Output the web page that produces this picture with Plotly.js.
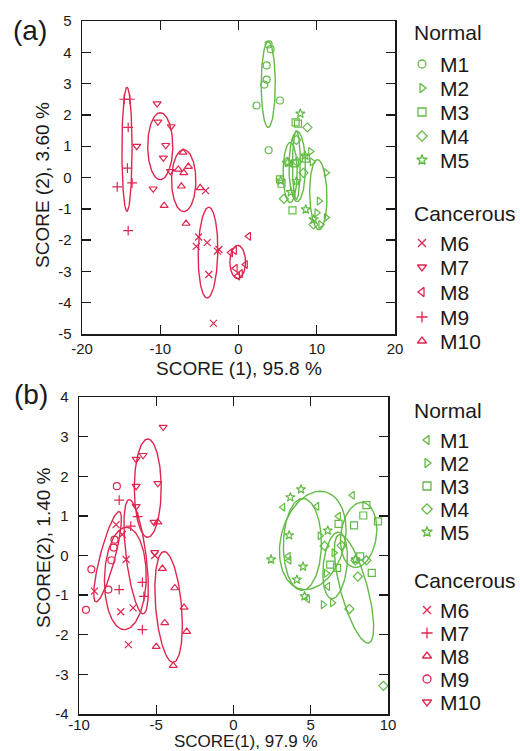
<!DOCTYPE html>
<html><head><meta charset="utf-8">
<script src="https://cdn.plot.ly/plotly-3.0.1.min.js"></script>
<style>html,body{margin:0;padding:0;background:#fff}#g{width:520px;height:751px}</style>
</head><body><div id="g"></div>
<script>
// ---------- Panel (a) data ----------
const A_M1_X = [3.85, 4.1, 3.6, 3.6, 3.3, 2.3, 5.3, 3.85];
const A_M1_Y = [4.25, 4.1, 3.58, 3.13, 2.97, 2.3, 2.46, 0.87];
const A_M2_X = [9.2, 11.2, 10.3, 11.2, 10.0, 9.4, 10.5];
const A_M2_Y = [0.83, 0.15, -0.75, -1.28, -1.13, 0.5, -1.5];
const A_M3_X = [7.3, 7.6, 5.3, 5.5, 6.9, 7.2, 8.6];
const A_M3_Y = [1.76, 1.72, -0.06, -0.2, -1.05, 0.45, 0.6];
const A_M4_X = [8.8, 8.3, 5.8, 7.4, 6.2, 7.5, 9.6];
const A_M4_Y = [1.6, 0.15, -0.68, 1.2, 0.5, 0.5, -1.5];
const A_M5_X = [7.9, 6.3, 7.4, 8.6, 9.6, 6.7, 8.5, 5.4];
const A_M5_Y = [2.04, 0.48, -0.12, -1.02, -1.34, -0.47, 0.7, -0.1];
const A_M6_X = [-4.2, -5.1, -5.4, -4.0, -2.5, -3.8, -3.2, -2.7];
const A_M6_Y = [-0.42, -1.9, -2.2, -2.08, -2.3, -3.1, -4.66, -2.35];
const A_M7_X = [-10.4, -10.3, -8.6, -13.0, -9.3, -9.6, -8.7, -10.9];
const A_M7_Y = [2.36, 1.78, 1.63, 1.0, 1.03, 0.63, 0.2, -0.36];
const A_M8_X = [1.3, -1.0, -0.5, 0.9, 0.26, -0.4, -0.1];
const A_M8_Y = [-1.88, -2.4, -2.33, -2.78, -3.07, -2.9, -3.15];
const A_M9_X = [-14.6, -13.9, -14.1, -14.2, -13.6, -15.5, -14.1];
const A_M9_Y = [2.5, 2.5, 1.6, 0.3, -0.17, -0.3, -1.7];
const A_M10_X = [-7.1, -7.7, -6.4, -7.0, -7.3, -4.9, -9.5, -6.7];
const A_M10_Y = [0.8, 0.26, 0.35, 0.15, -0.28, -0.33, -0.9, -1.47];
// confidence ellipses (a): [cx, cy, top-vector x, top-vector y, half-width]
const A_ELL = {
  M1: [3.8, 2.97, 0, 1.37, 0.9],
  M2: [10.2, -0.55, -0.1, 1.12, 1.1],
  M3: [6.6, 0.16, 0, 0.96, 0.9],
  M4: [7.5, 0.35, 0, 1.12, 1.05],
  M5: [7.4, 0.4, 0, 1.1, 0.5],
  M6: [-3.9, -2.4, 0.1, 1.45, 1.25],
  M7: [-10.0, 1.0, 0, 1.07, 1.6],
  M8: [-0.1, -2.7, 0, 0.53, 1.0],
  M9: [-14.25, 0.9, 0, 1.98, 0.65],
  M10: [-7.0, -0.1, 0, 0.99, 1.55]
};

// ---------- Panel (b) data ----------
const B_M1_X = [3.2, 5.4, 7.7, 3.55, 3.6, 4.8, 6.8, 6.1];
const B_M1_Y = [1.22, 1.24, 1.52, -0.02, -0.12, -1.1, 0.99, -0.78];
const B_M2_X = [5.6, 6.5, 5.8, 6.4, 6.0];
const B_M2_Y = [0.5, 0.07, -1.24, -1.19, -0.45];
const B_M3_X = [8.6, 8.4, 7.8, 9.35, 8.2, 8.95, 6.26, 6.7, 6.8];
const B_M3_Y = [1.27, 1.01, 0.76, 0.86, -0.02, -0.44, -0.23, -0.31, 0.8];
const B_M4_X = [5.9, 7.0, 7.9, 8.6, 8.05, 7.5, 9.7];
const B_M4_Y = [0.24, 0.25, -0.12, -0.12, -0.53, -1.35, -3.29];
const B_M5_X = [4.37, 3.68, 3.6, 2.43, 4.5, 4.1, 6.1, 4.6, 7.9];
const B_M5_Y = [1.67, 1.47, 0.51, -0.1, -0.28, -0.61, 0.63, -1.03, -0.1];
const B_M6_X = [-7.6, -6.95, -7.2, -9.0, -7.3, -6.5, -6.8, -5.1];
const B_M6_Y = [0.78, -0.1, 0.53, -0.9, -1.42, -1.32, -2.25, 0.0];
const B_M7_X = [-7.4, -6.65, -6.2, -7.4, -5.9, -5.8, -5.9];
const B_M7_Y = [1.4, 0.74, 0.98, -0.86, -0.68, -1.03, -1.87];
const B_M8_X = [-4.6, -3.8, -3.2, -3.03, -4.45, -5.0, -3.9, -4.9];
const B_M8_Y = [-0.33, -0.82, -1.31, -1.92, -1.7, -2.3, -2.78, 0.84];
const B_M9_X = [-7.55, -7.7, -7.75, -7.9, -9.2, -8.1, -9.55];
const B_M9_Y = [1.75, 0.4, 0.2, -0.12, -0.35, -0.86, -1.37];
const B_M10_X = [-4.55, -5.85, -6.3, -4.9, -6.3, -6.3, -5.15, -5.1];
const B_M10_Y = [3.24, 2.53, 2.43, 1.82, 1.75, 1.24, 0.84, 0.08];
const B_ELL = {
  M1: [5.13, 0.38, 0.48, 1.24, 2.1],
  M2: [6.58, -0.25, 0.2, 0.84, 0.77],
  M3: [8.1, 0.52, 0.2, 0.82, 1.16],
  M4: [7.8, -0.84, -0.9, 1.37, 0.9],
  M5: [4.46, 0.28, 0.03, 1.16, 1.23],
  M6: [-7.0, -0.58, 0.06, 1.29, 1.35],
  M7: [-6.3, -0.03, -0.45, 1.44, 0.65],
  M8: [-4.2, -1.3, -0.29, 1.40, 0.84],
  M9: [-8.15, -0.03, 0.74, 1.14, 0.5],
  M10: [-5.55, 1.7, 0.0, 1.24, 0.87]
};

// ---------- ticks / labels ----------
const A_XTICKS = [-20, -10, 0, 10, 20];
const A_XTEXT = ["-20", "-10", "0", "10", "20"];
const A_YTICKS = [-5, -4, -3, -2, -1, 0, 1, 2, 3, 4, 5];
const A_YTEXT = ["-5", "-4", "-3", "-2", "-1", "0", "1", "2", "3", "4", "5"];
const B_XTICKS = [-10, -5, 0, 5, 10];
const B_XTEXT = ["-10", "-5", "0", "5", "10"];
const B_YTICKS = [-4, -3, -2, -1, 0, 1, 2, 3, 4];
const B_YTEXT = ["-4", "-3", "-2", "-1", "0", "1", "2", "3", "4"];

const GROUP_NAMES = ["M1", "M2", "M3", "M4", "M5", "M6", "M7", "M8", "M9", "M10"];
const A_SYMBOLS = ["circle-open", "triangle-right-open", "square-open", "diamond-open", "star-open",
                   "x-thin-open", "triangle-down-open", "triangle-left-open", "cross-thin-open", "triangle-up-open"];
const B_SYMBOLS = ["triangle-left-open", "triangle-right-open", "square-open", "diamond-open", "star-open",
                   "x-thin-open", "cross-thin-open", "triangle-up-open", "circle-open", "triangle-down-open"];

const GREEN = "#63bb46", RED = "#e0264f", INK = "#1a1a1a";
const FONT = "Liberation Sans, Arial, sans-serif";
const W = 520, H = 751;

const A_DATA = {M1:[A_M1_X,A_M1_Y],M2:[A_M2_X,A_M2_Y],M3:[A_M3_X,A_M3_Y],M4:[A_M4_X,A_M4_Y],M5:[A_M5_X,A_M5_Y],
  M6:[A_M6_X,A_M6_Y],M7:[A_M7_X,A_M7_Y],M8:[A_M8_X,A_M8_Y],M9:[A_M9_X,A_M9_Y],M10:[A_M10_X,A_M10_Y]};
const B_DATA = {M1:[B_M1_X,B_M1_Y],M2:[B_M2_X,B_M2_Y],M3:[B_M3_X,B_M3_Y],M4:[B_M4_X,B_M4_Y],M5:[B_M5_X,B_M5_Y],
  M6:[B_M6_X,B_M6_Y],M7:[B_M7_X,B_M7_Y],M8:[B_M8_X,B_M8_Y],M9:[B_M9_X,B_M9_Y],M10:[B_M10_X,B_M10_Y]};

function ellipse(p) {
  const [cx, cy, mx, my, w] = p, xs = [], ys = [];
  for (let i = 0; i <= 120; i++) {
    const t = 2 * Math.PI * i / 120;
    xs.push(cx + mx * Math.cos(t) + w * Math.sin(t));
    ys.push(cy + my * Math.cos(t));
  }
  return [xs, ys];
}

const traces = [];
function addPanel(data, ell, symbols, xa, ya) {
  GROUP_NAMES.forEach((g, i) => {
    const col = i < 5 ? GREEN : RED;
    const e = ellipse(ell[g]);
    traces.push({x: e[0], y: e[1], xaxis: xa, yaxis: ya, mode: "lines", hoverinfo: "skip",
      line: {color: col, width: 1.4}, showlegend: false});
    traces.push({x: data[g][0], y: data[g][1], xaxis: xa, yaxis: ya, mode: "markers", name: g,
      marker: {symbol: symbols[i], size: 7, color: col, line: {color: col, width: 1.2}}, showlegend: false});
  });
}
addPanel(A_DATA, A_ELL, A_SYMBOLS, "x", "y");
addPanel(B_DATA, B_ELL, B_SYMBOLS, "x2", "y2");

// ---------- custom legends (pixel layout on an overlay axis) ----------
const annotations = [];
function txt(x, y, s, size, anchor, extra) {
  annotations.push(Object.assign({xref: "x3", yref: "y3", x: x, y: y, text: s, showarrow: false,
    xanchor: anchor || "left", yanchor: "middle", font: {family: FONT, size: size, color: INK}}, extra || {}));
}
function legend(symbols, symX, txtX, titleX, yNormal, yRows1, yCanc, yRows2) {
  txt(titleX, yNormal, "Normal", 21);
  txt(titleX, yCanc, "Cancerous", 21);
  GROUP_NAMES.forEach((g, i) => {
    const y = i < 5 ? yRows1[i] : yRows2[i - 5];
    txt(txtX, y, g, 21);
    const col = i < 5 ? GREEN : RED;
    traces.push({x: [symX], y: [y], xaxis: "x3", yaxis: "y3", mode: "markers", hoverinfo: "skip", showlegend: false,
      marker: {symbol: symbols[i], size: 8, color: col, line: {color: col, width: 1.3}}});
  });
}
legend(A_SYMBOLS, 422, 438, 412, 32, [64, 88, 112, 136, 160], 213, [243, 267, 292, 317, 341]);
legend(B_SYMBOLS, 427, 438, 412, 410, [440, 463, 486, 509, 532], 580, [610, 633, 656, 679, 702]);

// panel labels and axis titles
txt(30, 30, "(a)", 28, "center");
txt(31, 394, "(b)", 28, "center");
txt(239, 368, "SCORE (1), 95.8 %", 19, "center");
txt(42, 185, "SCORE (2), 3.60 %", 19, "center", {textangle: -90});
txt(246, 750, "SCORE(1), 97.9 %", 17, "center", {yanchor: "bottom", yshift: -2, borderpad: 0});
txt(43, 548, "SCORE(2), 1.40 %", 19, "center", {textangle: -90});

function axis(range, domain, anchor, tv, tt, standoff) {
  return {range: range, domain: domain, anchor: anchor, tickmode: "array", tickvals: tv, ticktext: tt,
    ticks: "inside", ticklen: 9, tickwidth: 1.4, tickcolor: INK, mirror: "ticks", showline: true,
    linecolor: INK, linewidth: 1.5, showgrid: false, zeroline: false, fixedrange: true,
    ticklabelstandoff: standoff, tickfont: {family: FONT, size: 15, color: INK}};
}
const layout = {
  width: W, height: H, margin: {l: 0, r: 0, t: 0, b: 0}, paper_bgcolor: "#fff", plot_bgcolor: "rgba(0,0,0,0)",
  showlegend: false,
  xaxis: axis([-20, 20], [82 / W, 395 / W], "y", A_XTICKS, A_XTEXT, 0),
  yaxis: axis([-5, 5], [1 - 334 / H, 1 - 21 / H], "x", A_YTICKS, A_YTEXT, 6),
  xaxis2: axis([-10, 10], [79 / W, 388 / W], "y2", B_XTICKS, B_XTEXT, -4),
  yaxis2: axis([-4, 4], [1 - 714 / H, 1 - 397 / H], "x2", B_YTICKS, B_YTEXT, 6),
  xaxis3: {range: [0, W], domain: [0, 1], anchor: "y3", visible: false, fixedrange: true},
  yaxis3: {range: [H, 0], domain: [0, 1], anchor: "x3", visible: false, fixedrange: true},
  annotations: annotations
};
Plotly.newPlot("g", traces, layout, {staticPlot: true, displayModeBar: false});
</script></body></html>
